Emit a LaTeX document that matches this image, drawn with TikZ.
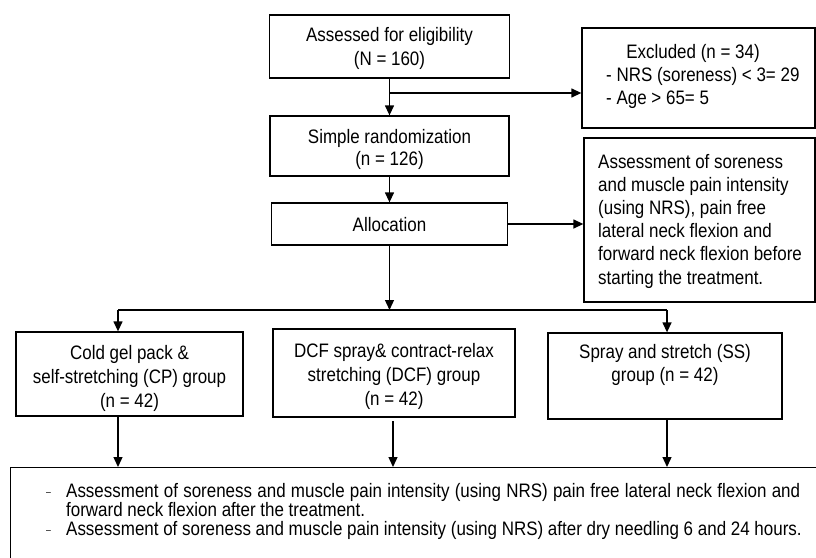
\documentclass[tikz,border=0pt]{standalone}
\usepackage{fontspec}
\setmainfont{Liberation Sans}[FakeStretch=0.87]
\usetikzlibrary{arrows.meta,calc}
\begin{document}
\begin{tikzpicture}[x=1pt,y=-1pt,
  every node/.style={font=\fontsize{19.5}{24}\selectfont},
  box/.style={draw, line width=1.3pt, inner sep=0pt},
  txt/.style={inner sep=0pt},
  ctxt/.style={inner sep=0pt, anchor=base, align=center},
  arr/.style={-{Triangle[length=10pt,width=9pt]}, line width=1.3pt},
  ln/.style={line width=1.3pt}]
\useasboundingbox (0,0) rectangle (816,557);

% main column
\node[box, minimum width=240pt, minimum height=63pt] (elig) at (389.5,46.5) {};
\node[ctxt, font=\fontsize{19.5}{24.5}\selectfont] (eligT) at (389.5,65.5) {Assessed for eligibility\\(N = 160)};
\node[box, minimum width=239pt, minimum height=60pt] (rand) at (389.5,146) {};
\node[ctxt, font=\fontsize{19.5}{22.5}\selectfont] (randT) at (389.5,165.5) {Simple randomization\\(n = 126)};
\node[box, minimum width=236pt, minimum height=42pt] (alloc) at (389.5,224) {};
\node[ctxt] (allocT) at (389.5,231.5) {Allocation};

% right column
\node[box, minimum width=233pt, minimum height=100pt] (excl) at (698.5,78) {};
\node[txt, anchor=base] (exclT) at (693,58.5) {Excluded (n = 34)};
\node[txt, anchor=base west, align=left, font=\fontsize{19.5}{23}\selectfont] (exclL) at (606,104) {- NRS (soreness) < 3= 29\\- Age > 65= 5};

\node[box, minimum width=231pt, minimum height=164pt] (assess) at (699.5,220) {};
\node[txt, anchor=base west, align=left, font=\fontsize{19.5}{23.2}\selectfont] (assT) at (598,284) {Assessment of soreness\\and muscle pain intensity\\(using NRS), pain free\\lateral neck flexion and\\forward neck flexion before\\starting the treatment.};

% groups
\node[box, minimum width=227pt, minimum height=84pt] (cp) at (129.5,374) {};
\node[ctxt] (cpT) at (129.5,407.5) {Cold gel pack \&\\self-stretching (CP) group\\(n = 42)};
\node[box, minimum width=242pt, minimum height=88pt] (dcf) at (394,373) {};
\node[ctxt] (dcfT) at (394,405.5) {DCF spray\& contract-relax\\stretching (DCF) group\\(n = 42)};
\node[box, minimum width=234pt, minimum height=86pt] (ss) at (665,376) {};
\node[ctxt, font=\fontsize{19.5}{23}\selectfont] (ssT) at (665,381.5) {Spray and stretch (SS)\\group (n = 42)};

% bottom box
\node[draw, line width=1.3pt, inner sep=0pt, minimum width=830pt, minimum height=120pt, anchor=north west] (big) at (10,467) {};
\node[txt, anchor=base west, font=\fontsize{10}{10}\selectfont] (d1) at (46,495) {–};
\node[txt, anchor=base west, font=\fontsize{10}{10}\selectfont] (d2) at (46,533) {–};
\node[txt, anchor=base west] (l1) at (66,497) {\makebox[734pt][s]{Assessment of soreness and muscle pain intensity (using NRS) pain free lateral neck flexion and}};
\node[txt, anchor=base west] (l2) at (66,516) {forward neck flexion after the treatment.};
\node[txt, anchor=base west] (l3) at (66,535) {Assessment of soreness and muscle pain intensity (using NRS) after dry needling 6 and 24 hours.};

% connectors
\coordinate (b1) at (389.5,93);
\draw[arr] (elig.south) -- (rand.north);
\draw[arr] (b1) -- (b1 -| excl.west);
\draw[arr] (rand.south) -- (alloc.north);
\draw[arr] (alloc.east) -- (alloc.east -| assess.west);
\coordinate (hl) at (118,310);
\coordinate (hr) at (667,310);
\draw[arr] (alloc.south) -- (alloc.south |- hl);
\draw[ln] (hl) -- (hr);
\draw[arr] (hl) -- (hl |- cp.north);
\draw[arr] (hr) -- (hr |- ss.north);
\draw[arr] (hl |- cp.south) -- (hl |- big.north);
\coordinate (dx) at (393,421);
\draw[arr] (dx) -- (dx |- big.north);
\draw[arr] (hr |- ss.south) -- (hr |- big.north);
\end{tikzpicture}
\end{document}
